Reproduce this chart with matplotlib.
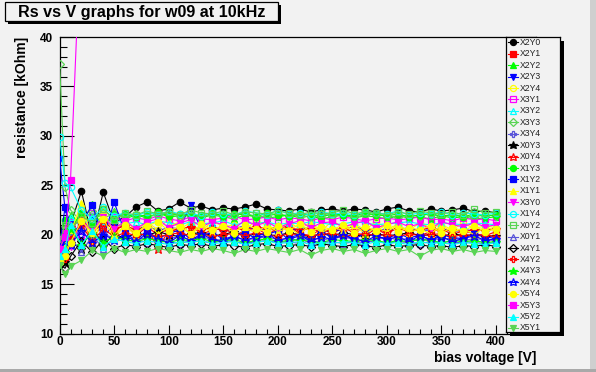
import matplotlib
matplotlib.use("Agg")
import matplotlib.pyplot as plt
from matplotlib.patches import Rectangle
from matplotlib.ticker import MultipleLocator

# ---------------- data ----------------
voltage = [0, 5, 10, 20, 30, 40, 50, 60, 70, 80, 90, 100, 110, 120, 130, 140, 150,
           160, 170, 180, 190, 200, 210, 220, 230, 240, 250, 260, 270, 280, 290,
           300, 310, 320, 330, 340, 350, 360, 370, 380, 390, 400]

r_X2Y0 = [18.4, 19.2, 21.0, 24.4, 19.6, 24.3, 21.2,
          21.8, 22.8, 23.3, 22.4, 22.6, 23.3, 22.7,
          22.9, 22.5, 22.7, 22.6, 22.8, 23.1, 22.6,
          22.5, 22.4, 22.6, 22.3, 22.5, 22.6, 22.4,
          22.6, 22.5, 22.3, 22.6, 22.8, 22.4, 22.3,
          22.6, 22.4, 22.5, 22.7, 22.3, 22.4, 22.2]
r_X2Y1 = [19.8, 17.8, 20.5, 21.8, 19.2, 21.5, 20.4,
          21.0, 19.9, 20.8, 20.0, 20.6, 20.2, 21.0,
          20.0, 20.5, 20.8, 19.9, 20.4, 20.7, 20.0,
          20.6, 20.9, 20.1, 19.9, 20.6, 20.1, 20.7,
          20.2, 19.9, 20.6, 20.0, 20.8, 20.2, 19.9,
          20.3, 20.6, 20.0, 20.4, 20.1, 19.9, 20.3]
r_X2Y2 = [18.9, 19.8, 22.0, 21.0, 23.1, 20.2, 22.4,
          21.6, 22.0, 21.7, 22.2, 21.8, 21.9, 22.1,
          21.7, 22.0, 21.8, 21.6, 22.0, 21.9, 21.7,
          21.8, 22.0, 21.7, 21.9, 21.6, 21.8, 22.0,
          21.7, 21.9, 21.8, 21.6, 21.9, 21.7, 21.8,
          21.6, 21.9, 21.7, 21.8, 21.6, 21.7, 21.8]
r_X2Y3 = [27.7, 22.6, 21.2, 19.5, 21.8, 19.8, 21.0,
          20.8, 20.5, 20.9, 20.4, 20.7, 20.6, 23.0,
          20.5, 20.7, 20.4, 20.6, 20.9, 20.5, 20.6,
          20.8, 20.4, 20.6, 20.7, 20.5, 20.3, 20.6,
          20.8, 20.5, 20.4, 20.6, 20.5, 20.7, 20.4,
          20.5, 20.6, 20.3, 20.5, 20.4, 20.6, 20.5]
r_X2Y4 = [17.5, 18.6, 20.2, 22.6, 18.8, 22.0, 20.3,
          21.5, 20.4, 21.3, 20.5, 21.6, 20.6, 21.2,
          20.3, 21.4, 20.8, 21.0, 20.4, 21.5, 20.9,
          20.5, 21.3, 20.6, 21.2, 20.4, 21.4, 20.7,
          21.1, 20.5, 21.3, 20.6, 21.0, 20.4, 21.2,
          20.7, 21.0, 20.5, 21.2, 20.6, 20.9, 20.7]
r_X3Y1 = [19.0, 20.6, 21.3, 20.0, 22.2, 20.5, 21.8,
          21.4, 21.7, 21.5, 21.9, 21.6, 21.4, 21.8,
          21.6, 21.5, 21.7, 21.9, 21.5, 21.6, 21.8,
          21.5, 21.7, 21.6, 21.4, 21.7, 21.5, 21.8,
          21.6, 21.4, 21.6, 21.7, 21.5, 21.6, 21.8,
          21.5, 21.6, 21.4, 21.7, 21.5, 21.6, 21.4]
r_X3Y2 = [18.2, 19.4, 21.8, 20.8, 21.9, 21.0, 21.5,
          21.1, 21.3, 21.0, 21.4, 21.2, 21.0, 21.3,
          21.1, 21.2, 21.4, 21.0, 21.2, 21.1, 21.3,
          21.0, 21.2, 21.1, 21.3, 21.2, 21.0, 21.1,
          21.3, 21.2, 21.0, 21.1, 21.2, 21.3, 21.1,
          21.0, 21.2, 21.1, 21.0, 21.2, 21.1, 21.0]
r_X3Y3 = [37.3, 24.8, 22.5, 21.3, 22.4, 21.6, 22.2,
          21.9, 22.1, 21.8, 22.0, 22.2, 21.9, 22.0,
          21.8, 22.1, 21.9, 22.0, 22.2, 21.8, 21.9,
          22.1, 21.9, 22.0, 21.8, 22.1, 21.9, 22.0,
          21.8, 22.0, 22.1, 21.9, 21.8, 22.0, 21.9,
          22.1, 21.8, 22.0, 21.9, 21.8, 22.0, 21.9]
r_X3Y4 = [17.6, 18.8, 19.4, 20.6, 18.9, 20.2, 19.5,
          19.8, 19.5, 19.7, 19.4, 19.6, 19.8, 19.5,
          19.7, 19.6, 19.4, 19.7, 19.5, 19.6, 19.8,
          19.5, 19.6, 19.4, 19.7, 19.5, 19.6, 19.8,
          19.5, 19.4, 19.6, 19.7, 19.5, 19.6, 19.4,
          19.6, 19.5, 19.7, 19.4, 19.6, 19.5, 19.4]
r_X0Y3 = [20.5, 17.2, 19.2, 18.6, 20.8, 18.9, 20.1,
          19.6, 20.2, 19.9, 20.3, 20.0, 19.8, 20.1,
          20.2, 19.9, 20.0, 20.3, 19.8, 20.1, 20.0,
          19.9, 20.2, 20.0, 19.8, 20.1, 19.9, 20.2,
          20.0, 19.8, 20.1, 19.9, 20.0, 20.2, 19.9,
          20.0, 19.8, 20.1, 19.9, 20.0, 19.8, 19.9]
r_X0Y4 = [18.0, 19.6, 20.8, 21.6, 20.2, 21.2, 20.6,
          20.9, 20.5, 20.8, 18.6, 20.4, 20.6, 20.8,
          20.5, 20.7, 20.4, 20.6, 20.5, 20.8, 20.6,
          20.4, 20.7, 20.5, 20.6, 20.3, 20.5, 20.7,
          20.4, 20.6, 20.5, 20.3, 20.6, 20.4, 20.5,
          20.7, 20.4, 20.5, 20.3, 20.5, 20.4, 20.6]
r_X1Y3 = [19.5, 21.5, 20.6, 22.2, 21.0, 22.6, 21.6,
          22.1, 21.8, 22.0, 22.3, 21.9, 22.1, 21.8,
          22.0, 22.2, 21.9, 22.1, 22.0, 21.8, 22.2,
          22.0, 21.9, 22.1, 22.0, 21.8, 22.1, 22.0,
          21.9, 22.2, 22.0, 21.9, 22.1, 21.8, 22.0,
          22.1, 21.9, 22.0, 21.8, 22.1, 21.9, 22.0]
r_X1Y2 = [18.8, 22.8, 19.8, 21.2, 23.0, 19.6, 23.3,
          20.2, 19.4, 20.4, 19.6, 20.1, 20.5, 19.5,
          19.8, 20.3, 19.5, 19.9, 20.2, 19.6, 20.0,
          20.4, 19.5, 19.9, 19.6, 20.3, 19.7, 20.0,
          19.5, 20.2, 19.8, 19.6, 20.1, 19.7, 19.9,
          19.5, 20.0, 19.7, 19.6, 20.1, 19.8, 19.6]
r_X1Y1 = [18.3, 19.0, 20.2, 23.2, 19.4, 22.5, 20.0,
          20.9, 19.9, 21.2, 20.1, 20.8, 21.3, 20.0,
          20.9, 20.2, 21.1, 20.4, 20.8, 20.1, 21.0,
          20.3, 20.7, 20.0, 21.1, 20.2, 20.8, 20.4,
          21.0, 20.1, 20.7, 20.3, 21.0, 20.2, 20.6,
          20.1, 20.9, 20.3, 20.6, 20.0, 20.8, 20.4]
r_X3Y0 = [19.6, 20.2, 18.8, 21.4, 20.4, 21.8, 20.6,
          21.4, 20.6, 21.3, 21.6, 20.7, 21.2, 21.5,
          20.8, 21.3, 21.0, 20.6, 21.5, 20.9, 21.3,
          20.7, 21.1, 21.4, 20.7, 21.2, 21.3, 20.8,
          21.1, 21.4, 20.7, 21.0, 21.3, 20.8, 21.1,
          20.6, 21.3, 21.0, 20.8, 21.2, 20.8, 21.0]
r_X1Y4 = [29.9, 25.2, 24.8, 22.5, 21.6, 22.8, 21.9,
          22.2, 21.9, 22.3, 22.0, 22.4, 22.1, 22.2,
          21.9, 22.3, 22.1, 22.0, 22.4, 22.2, 22.0,
          22.5, 22.1, 22.2, 22.0, 22.3, 22.1, 22.2,
          22.0, 22.3, 22.2, 22.1, 22.4, 22.0, 22.2,
          22.1, 22.3, 22.0, 22.2, 22.1, 22.0, 22.2]
r_X0Y2 = [19.2, 21.0, 20.4, 21.9, 21.2, 22.6, 21.5,
          22.2, 22.0, 22.4, 22.1, 22.3, 22.0, 22.5,
          22.2, 22.1, 22.4, 22.0, 22.3, 22.2, 22.1,
          22.4, 22.2, 22.0, 22.3, 22.1, 22.2, 22.5,
          22.1, 22.3, 22.2, 22.0, 22.3, 22.1, 22.4,
          22.2, 22.1, 22.3, 22.0, 22.6, 22.2, 22.3]
r_X0Y1 = [17.9, 18.4, 19.8, 18.2, 19.9, 18.6, 19.6,
          19.3, 19.5, 19.2, 19.4, 19.3, 19.1, 19.4,
          19.3, 19.2, 19.4, 19.3, 19.1, 19.3, 19.4,
          19.2, 19.3, 19.1, 19.4, 19.2, 19.3, 19.1,
          19.3, 19.2, 19.4, 19.1, 19.3, 19.2, 19.1,
          19.3, 19.2, 19.1, 19.3, 19.2, 19.1, 19.2]
r_X4Y1 = [17.0, 16.6, 17.8, 19.4, 18.2, 19.5, 18.6,
          19.0, 18.8, 19.1, 18.9, 18.7, 19.0, 18.9,
          19.1, 18.8, 19.0, 18.9, 18.7, 19.0, 19.1,
          18.8, 18.9, 19.0, 18.8, 19.1, 18.9, 18.8,
          19.0, 18.9, 18.7, 19.0, 18.8, 18.9, 19.0,
          18.8, 18.9, 18.7, 18.9, 18.8, 19.0, 18.8]
r_X4Y2 = [18.6, 17.5, 19.6, 21.0, 19.3, 20.6, 19.8,
          20.2, 19.9, 20.1, 19.8, 20.0, 20.2, 19.9,
          20.1, 19.8, 20.0, 20.1, 19.9, 20.2, 20.0,
          19.8, 20.1, 20.0, 19.9, 20.0, 20.2, 19.8,
          20.0, 20.1, 19.9, 20.0, 19.8, 20.1, 19.9,
          20.0, 20.1, 19.8, 20.0, 19.9, 20.0, 19.8]
r_X4Y3 = [17.4, 18.2, 20.6, 19.0, 20.2, 19.2, 19.8,
          19.5, 19.3, 19.6, 19.4, 19.2, 19.5, 19.4,
          19.6, 19.3, 19.4, 19.5, 19.2, 19.4, 19.6,
          19.3, 19.4, 19.5, 19.3, 19.2, 19.5, 19.4,
          19.3, 19.5, 19.4, 19.2, 19.4, 19.3, 19.5,
          19.4, 19.2, 19.4, 19.3, 19.4, 19.2, 19.3]
r_X4Y4 = [18.1, 19.4, 19.0, 20.4, 19.2, 20.0, 19.5,
          19.9, 19.3, 20.1, 19.6, 19.2, 19.9, 19.4,
          20.1, 19.5, 19.3, 19.9, 19.4, 19.8, 20.2,
          19.4, 19.7, 20.0, 19.3, 19.8, 19.5, 20.0,
          19.6, 19.3, 19.9, 19.5, 19.8, 19.3, 19.9,
          19.5, 19.8, 19.3, 19.6, 19.9, 19.4, 19.6]
r_X5Y4 = [17.2, 17.8, 19.2, 21.4, 20.2, 21.6, 19.6,
          21.0, 20.2, 20.9, 21.3, 20.4, 20.8, 20.1,
          21.1, 20.5, 20.9, 20.2, 21.0, 20.6, 20.3,
          20.9, 20.4, 21.1, 20.3, 20.8, 20.5, 21.0,
          20.2, 20.8, 20.4, 21.0, 20.3, 20.7, 20.5,
          20.9, 20.2, 20.7, 20.4, 20.9, 20.3, 20.6]
voltage_X5Y3 = [0, 5, 10, 20]
r_X5Y3 = [18.6, 19.8, 25.5, 52.0]
r_X5Y2 = [17.8, 18.6, 21.0, 19.0, 20.4, 18.8, 19.6,
          19.3, 19.1, 19.4, 19.2, 19.0, 19.3, 19.2,
          19.4, 19.1, 19.2, 19.3, 19.0, 19.2, 19.4,
          19.1, 19.2, 19.3, 19.0, 19.2, 19.1, 19.3,
          19.2, 19.0, 19.3, 19.1, 19.2, 19.0, 19.3,
          19.1, 19.2, 19.0, 19.2, 19.1, 19.0, 19.2]
r_X5Y1 = [16.9, 16.0, 16.8, 17.4, 18.4, 17.8, 18.6,
          18.2, 18.5, 18.3, 18.6, 18.4, 18.2, 18.5,
          18.3, 18.6, 18.4, 18.1, 18.5, 18.3, 18.6,
          18.4, 18.2, 18.5, 17.9, 18.4, 18.6, 18.3,
          18.5, 18.1, 18.4, 18.6, 18.3, 18.5, 17.8,
          18.4, 18.6, 18.3, 18.5, 18.2, 18.4, 18.3]

series = [
    ("X2Y0", voltage, r_X2Y0), ("X2Y1", voltage, r_X2Y1), ("X2Y2", voltage, r_X2Y2),
    ("X2Y3", voltage, r_X2Y3), ("X2Y4", voltage, r_X2Y4), ("X3Y1", voltage, r_X3Y1),
    ("X3Y2", voltage, r_X3Y2), ("X3Y3", voltage, r_X3Y3), ("X3Y4", voltage, r_X3Y4),
    ("X0Y3", voltage, r_X0Y3), ("X0Y4", voltage, r_X0Y4), ("X1Y3", voltage, r_X1Y3),
    ("X1Y2", voltage, r_X1Y2), ("X1Y1", voltage, r_X1Y1), ("X3Y0", voltage, r_X3Y0),
    ("X1Y4", voltage, r_X1Y4), ("X0Y2", voltage, r_X0Y2), ("X0Y1", voltage, r_X0Y1),
    ("X4Y1", voltage, r_X4Y1), ("X4Y2", voltage, r_X4Y2), ("X4Y3", voltage, r_X4Y3),
    ("X4Y4", voltage, r_X4Y4), ("X5Y4", voltage, r_X5Y4), ("X5Y3", voltage_X5Y3, r_X5Y3),
    ("X5Y2", voltage, r_X5Y2), ("X5Y1", voltage, r_X5Y1),
]

title = "Rs vs V graphs for w09 at 10kHz"
xlabel = "bias voltage [V]"
ylabel = "resistance [kOhm]"

# ---------------- styles (ROOT-like) ----------------
root_colors = ["#000000", "#ff0000", "#00ff00", "#0000ff", "#ffff00",
               "#ff00ff", "#00ffff", "#59d454", "#5954d9"]
# ROOT marker styles 20..30 -> (matplotlib marker, filled)
root_markers = [("o", True), ("s", True), ("^", True), ("v", True), ("o", False),
                ("s", False), ("^", False), ("D", False), ("P", False),
                ("*", True), ("*", False)]
marker_sizes = {"o": 4.6, "s": 4.6, "^": 5.0, "v": 5.0, "D": 4.0, "P": 5.0, "*": 6.5}

BG = "#f2f2f2"
W, H = 596, 372
FONT = "Liberation Sans"

fig = plt.figure(figsize=(W / 100, H / 100), dpi=100)
fig.patch.set_facecolor(BG)

def fx(px):
    return px / W

def fy(py):
    return 1 - py / H

# canvas bevel
fig.add_artist(Rectangle((fx(590), 0), fx(6), 1, transform=fig.transFigure,
                         facecolor="#cfcfcf", edgecolor="none", zorder=0))
fig.add_artist(Rectangle((0, 0), 1, 3 / H, transform=fig.transFigure,
                         facecolor="#a9a9a9", edgecolor="none", zorder=0))

# main axes
L, R, T, B = 59.6, 536.4, 37.0, 333.5
ax = fig.add_axes([fx(L), fy(B), fx(R) - fx(L), (B - T) / H])
ax.set_facecolor(BG)
ax.set_xlim(0, 437)
ax.set_ylim(10, 40)

for i, (name, xs, ys) in enumerate(series):
    col = root_colors[i % 9]
    m, filled = root_markers[i % 11]
    ax.plot(xs, ys, color=col, lw=0.8, marker=m, ms=marker_sizes[m],
            mfc=col if filled else "none", mec=col, mew=0.9, zorder=2 + i)

for sp in ax.spines.values():
    sp.set_linewidth(0.9)
    sp.set_color("black")

ax.xaxis.set_major_locator(MultipleLocator(50))
ax.xaxis.set_minor_locator(MultipleLocator(10))
ax.yaxis.set_major_locator(MultipleLocator(5))
ax.yaxis.set_minor_locator(MultipleLocator(1))
ax.tick_params(axis="x", which="major", direction="in", length=6.5, width=0.8,
               pad=2, top=False)
ax.tick_params(axis="x", which="minor", direction="in", length=3.3, width=0.8, top=False)
ax.tick_params(axis="y", which="major", direction="in", length=10, width=0.8,
               pad=4.5, right=False)
ax.tick_params(axis="y", which="minor", direction="in", length=5, width=0.8, right=False)
for lab in ax.get_xticklabels() + ax.get_yticklabels():
    lab.set_fontfamily(FONT)
    lab.set_fontweight("bold")
    lab.set_fontsize(8.5)

# axis titles
fig.text(fx(536), fy(358), xlabel, ha="right", va="center", fontfamily=FONT,
         fontweight="bold", fontsize=10)
fig.text(fx(22), fy(37), ylabel, ha="center", va="top", rotation=90,
         fontfamily=FONT, fontweight="bold", fontsize=10)

# title box with shadow
tx0, ty0, tx1, ty1 = 5, 2, 278, 21
fig.add_artist(Rectangle((fx(tx0 + 3), fy(ty1 + 3)), fx(tx1 - tx0), (ty1 - ty0) / H,
                         transform=fig.transFigure, facecolor="black",
                         edgecolor="none", zorder=5))
fig.add_artist(Rectangle((fx(tx0), fy(ty1)), fx(tx1 - tx0), (ty1 - ty0) / H,
                         transform=fig.transFigure, facecolor=BG,
                         edgecolor="black", lw=0.9, zorder=6))
fig.text(fx((tx0 + tx1) / 2), fy((ty0 + ty1) / 2 + 0.5), title, ha="center",
         va="center", fontfamily=FONT, fontweight="bold", fontsize=11.6, zorder=7)

# legend box with shadow
lx0, ly0, lx1, ly1 = 506, 37, 560, 332
fig.add_artist(Rectangle((fx(lx0 + 4), fy(ly1 + 4)), fx(lx1 - lx0), (ly1 - ly0) / H,
                         transform=fig.transFigure, facecolor="black",
                         edgecolor="none", zorder=20))
lax = fig.add_axes([fx(lx0), fy(ly1), fx(lx1 - lx0), (ly1 - ly0) / H], zorder=21)
lax.set_facecolor(BG)
lax.set_xlim(lx0, lx1)
lax.set_ylim(ly1, ly0)
lax.set_xticks([])
lax.set_yticks([])
for sp in lax.spines.values():
    sp.set_linewidth(0.9)
    sp.set_color("black")

n = len(series)
first, last = 42.3, 328.0
step = (last - first) / (n - 1)
for i, (name, xs, ys) in enumerate(series):
    col = root_colors[i % 9]
    m, filled = root_markers[i % 11]
    yc = first + i * step
    lax.plot([507.5, 517.5], [yc, yc], color=col, lw=0.8, clip_on=False)
    lax.plot([512.5], [yc], color=col, marker=m, ms=marker_sizes[m] * 0.95,
             mfc=col if filled else "none", mec=col, mew=0.9, clip_on=False)
    lax.text(520, yc, name, ha="left", va="center", fontfamily=FONT,
             fontsize=6.2, color="#222222")

fig.savefig("out.png", dpi=100, facecolor=BG)
